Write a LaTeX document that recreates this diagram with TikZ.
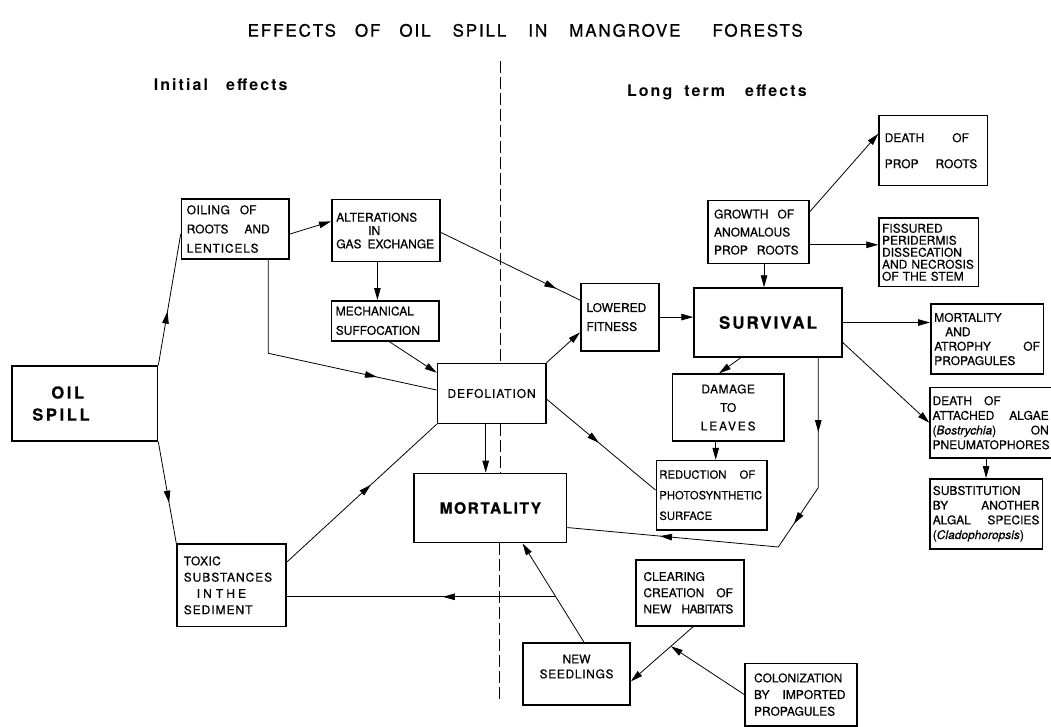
\documentclass[tikz,border=0pt]{standalone}
\usepackage{fontspec}
\setmainfont{TeX Gyre Heros}
\newfontfamily\lblfont[FakeBold=0.5]{TeX Gyre Heros}
\newfontfamily\ttlfont[LetterSpace=11,FakeBold=0.8]{TeX Gyre Heros}
\newfontfamily\subfont[LetterSpace=13]{TeX Gyre Heros}
\usetikzlibrary{arrows.meta,decorations.markings,calc}
% letter-spaced run of text
\newcommand\trk[2]{{\addfontfeatures{LetterSpace=#1}#2}}

\tikzset{
  >={Triangle[length=12pt,width=6.5pt]},
  box/.style={draw, line width=1.5pt, anchor=north west, inner ysep=0pt,
    align=left, font=\lblfont\fontsize{12}{#1}\selectfont},
  box/.default=14,
  boldbox/.style={draw, line width=1.7pt, anchor=north west, inner ysep=0pt,
    align=center, font=\lblfont\bfseries},
  conn/.style={line width=0.8pt},
  arr/.style={conn, ->},
  marr/.style={conn, postaction={decorate},
    decoration={markings, mark=at position #1 with {\arrow{>}}}},
  divider/.style={line width=0.9pt, dash pattern=on 12pt off 4pt},
  heading/.style={anchor=base west, inner sep=0pt}
}

\begin{document}
\hyphenpenalty=10000
\exhyphenpenalty=10000
\begin{tikzpicture}[x=1pt,y=-1pt]
\path[use as bounding box, fill=white] (0,0) rectangle (1051,727);

% headings
\node[heading, font=\ttlfont\fontsize{17}{20}\selectfont] (title) at (247.5,36.6)
  {EFFECTS\hspace{19pt}OF\hspace{19pt}OIL\hspace{22pt}SPILL\hspace{22pt}IN\hspace{22pt}MANGROVE\hspace{32pt}FORESTS};
\node[heading, font=\subfont\bfseries\fontsize{16}{19}\selectfont] (initial) at (153.6,90.5)
  {Initial\hspace{18pt}effects};
\node[heading, font=\subfont\bfseries\fontsize{16}{19}\selectfont] (longterm) at (626.8,97)
  {Long\hspace{12pt}term\hspace{20pt}effects};

% initial effects
\node[boldbox, inner xsep=20.3pt, text width=104.8pt, minimum height=74.6pt, align=left,
  font=\lblfont\bfseries\fontsize{16.5}{22}\selectfont] (oil) at (11.2,365.4)
  {\hspace*{19pt}\trk{16}{OIL}\\\trk{16}{SPILL}};
\node[box=19.2, inner xsep=5.3pt, text width=97pt, minimum height=60pt] (oiling) at (180.7,198.3)
  {\trk{4}{OILING}\hspace{10pt}OF\\ROOTS\hspace{16pt}AND\\\trk{7}{LENTICELS}};
\node[box=13.3, inner xsep=4.5pt, text width=99.3pt, minimum height=61.7pt] (alter) at (331,199)
  {ALTERATIONS\\\hspace*{32pt}IN\\GAS\hspace{6pt}EXCHANGE};
\node[box=19.3, inner xsep=4.3pt, text width=99pt, minimum height=40pt] (mech) at (330.7,300)
  {MECHANICAL\\SUFFOCATION};
\node[box, align=center, inner xsep=4pt, text width=100.3pt, minimum height=60pt] (defol) at (436.7,362.7)
  {\trk{8}{DEFOLIATION}};
\node[boldbox, inner xsep=5pt, text width=142.4pt, minimum height=69pt] (mort) at (413.3,472.7)
  {\fontsize{15.5}{18}\selectfont\trk{9.7}{MORTALITY}};
\node[box=16.3, inner xsep=6.7pt, text width=95.7pt, minimum height=82.4pt] (toxic) at (176.3,543.4)
  {\trk{3}{TOXIC}\\\trk{8}{SUBSTANCES}\\\hspace*{13pt}\trk{26}{IN THE}\\\trk{8}{SEDIMENT}};

% long term effects
\node[box=19, inner xsep=5.7pt, text width=66.9pt, minimum height=67.3pt] (lowered) at (580,282.7)
  {LOWERED\\FITNESS};
\node[boldbox, inner xsep=5pt, text width=137.7pt, minimum height=68.7pt] (surv) at (693.3,287.3)
  {\fontsize{17}{20}\selectfont\trk{11.5}{SURVIVAL}};
\node[box=18, inner xsep=6pt, text width=89pt, minimum height=62.7pt] (growth) at (707.3,200)
  {GROWTH\hspace{9pt}OF\\ANOMALOUS\\PROP\hspace{9pt}ROOTS};
\node[box=26, inner xsep=5.7pt, text width=97pt, minimum height=70pt] (deathprop) at (878.3,115)
  {DEATH\hspace{28pt}OF\\PROP\hspace{17pt}ROOTS};
\node[box=12, inner xsep=3pt, text width=93.4pt, minimum height=68.5pt] (fiss) at (878.3,217.3)
  {FISSURED\\PERIDERMIS\\DISSECATION\\AND~NECROSIS\\OF THE STEM};
\node[box=14.4, inner xsep=3.5pt, text width=105.7pt, minimum height=70pt] (mortatro) at (930,303.3)
  {MORTALITY\\\hspace*{11pt}AND\\ATROPHY\hfill OF\\PROPAGULES};
\node[box=18.5, align=center, inner xsep=5pt, text width=101.9pt, minimum height=66.8pt] (damage) at (671.5,373.4)
  {\trk{4}{DAMAGE}\\TO\\\trk{15}{LEAVES}};
\node[box, inner xsep=3pt, text width=104.8pt, minimum height=69.2pt,
  font=\lblfont\fontsize{11.3}{20.6}\selectfont] (reduct) at (655.6,459.8)
  {REDUCTION\hspace{13pt}OF\\PHOTOSYNTHETIC\\SURFACE};
\node[box=14.7, inner xsep=2.5pt, text width=116.2pt, minimum height=70.6pt] (algae) at (929.3,386.7)
  {DEATH\hspace{12pt}OF\\ATTACHED\hfill ALGAE\\(\textit{Bostrychia})\hfill ON\\PNEUMATOPHORES};
\node[box=14.7, inner xsep=3pt, text width=106.7pt, minimum height=70pt] (subst) at (929,478)
  {SUBSTITUTION\\BY\hfill ANOTHER\\ALGAL\hfill SPECIES\\(\textit{Cladophoropsis})};
\node[box=16.2, inner xsep=7.7pt, text width=92.9pt, minimum height=66pt] (clear) at (635,559)
  {CLEARING\\CREATION\hspace{12pt}OF\\NEW\hspace{10pt}\trk{-5}{HABITATS}};
\node[box=15, align=center, inner xsep=5pt, text width=97pt, minimum height=61.7pt] (sdl) at (522.3,642.3)
  {NEW\\\trk{5.5}{SEEDLINGS}\\\mbox{}};
\node[box=16.7, inner xsep=9pt, text width=93.7pt, minimum height=62.3pt] (colon) at (744.3,662.7)
  {COLONIZATION\\BY\hspace{13pt}IMPORTED\\PROPAGULES};

% divider between initial and long term effects
\coordinate (dtop) at (500.8,61);
\coordinate (dbot) at (499.3,701);
\draw[divider] (dtop) -- (dtop |- defol.north);
\draw[divider] (dtop |- defol.south) -- (dtop |- mort.north);
\draw[divider] (dbot |- mort.south) -- (dbot);

% helper points
\coordinate (o5) at (268.3,353.3);
\coordinate (k1) at (818.3,487.6);
\coordinate (k2) at (778.3,547);
\path ([xshift=7.5pt]sdl.north) coordinate (s1) ([xshift=32.2pt]mort.south) coordinate (m1);
\coordinate (J) at ($(s1)!0.46!(m1)$);
\path ([xshift=3.5pt]clear.south) coordinate (c1) ([yshift=-7.5pt]sdl.east) coordinate (c2);
\coordinate (P) at ($(c1)!0.36!(c2)$);

% connectors, initial effects
\draw[marr=0.41] (oil.north east) -- ([yshift=-5pt]oiling.west);
\draw[marr=0.6] (oil.south east) -- (toxic.north west);
\draw[arr] ([yshift=-5pt]oiling.east) -- ([yshift=9.2pt]alter.west);
\draw[arr] ([xshift=-8.5pt]alter.south) -- ([xshift=-8.5pt]alter.south |- mech.north);
\draw[marr=0.77] (oiling.south -| o5) -- (o5) -- ([yshift=3.4pt]defol.west);
\draw[arr] ([xshift=3.8pt]mech.south) -- ([yshift=-10pt]defol.north west);
\draw[marr=0.83] ([yshift=-1.8pt]alter.east) -- ([yshift=17pt]lowered.west);
\draw[arr] (defol.north east) -- ([yshift=-15.3pt]lowered.west);
\draw[arr] ([xshift=-5.9pt]defol.south) -- ([xshift=-5.9pt]defol.south |- mort.north);
\draw[marr=0.56] ([yshift=-18.6pt]toxic.north east) -- (defol.south west);
\draw[marr=0.48] ([yshift=-5.6pt]defol.east) -- ([yshift=5pt]reduct.west);

% connectors, long term effects
\draw[arr] (lowered.east) -- (lowered.east -| surv.west);
\draw[arr] ([xshift=5.5pt]growth.south) -- ([xshift=5.5pt]growth.south |- surv.north);
\draw[arr] ([yshift=-11.7pt]growth.north east) -- ([yshift=17pt]deathprop.west);
\draw[arr] ([yshift=-12.7pt]growth.east) -- ([yshift=-12.7pt]growth.east -| fiss.west);
\draw[arr] (surv.east) -- (surv.east -| mortatro.west);
\draw[arr] ([yshift=-20pt]surv.east) -- (algae.west);
\draw[arr] (algae.south -| subst.north) -- (subst.north);
\draw[arr] ([xshift=-27.2pt]surv.south) -- ([xshift=-9.2pt]damage.north);
\draw[arr] ([xshift=-12.5pt]damage.south) -- ([xshift=-12.5pt]damage.south |- reduct.north);
\draw[conn, postaction={decorate}, decoration={markings,
    mark=at position 0.18 with {\arrow{>}},
    mark=at position 0.42 with {\arrow{>}},
    mark=at position 0.775 with {\arrow{>}}}]
  (surv.south -| k1) -- (k1) -- (k2) -- ([yshift=-19.5pt]mort.east);

% connectors, recovery
\draw[arr] (s1) -- (m1);
\draw[marr=0.42] (J) -- (J -| toxic.east);
\draw[arr] (c1) -- (c2);
\draw[arr] (colon.west) -- (P);
\end{tikzpicture}
\end{document}
